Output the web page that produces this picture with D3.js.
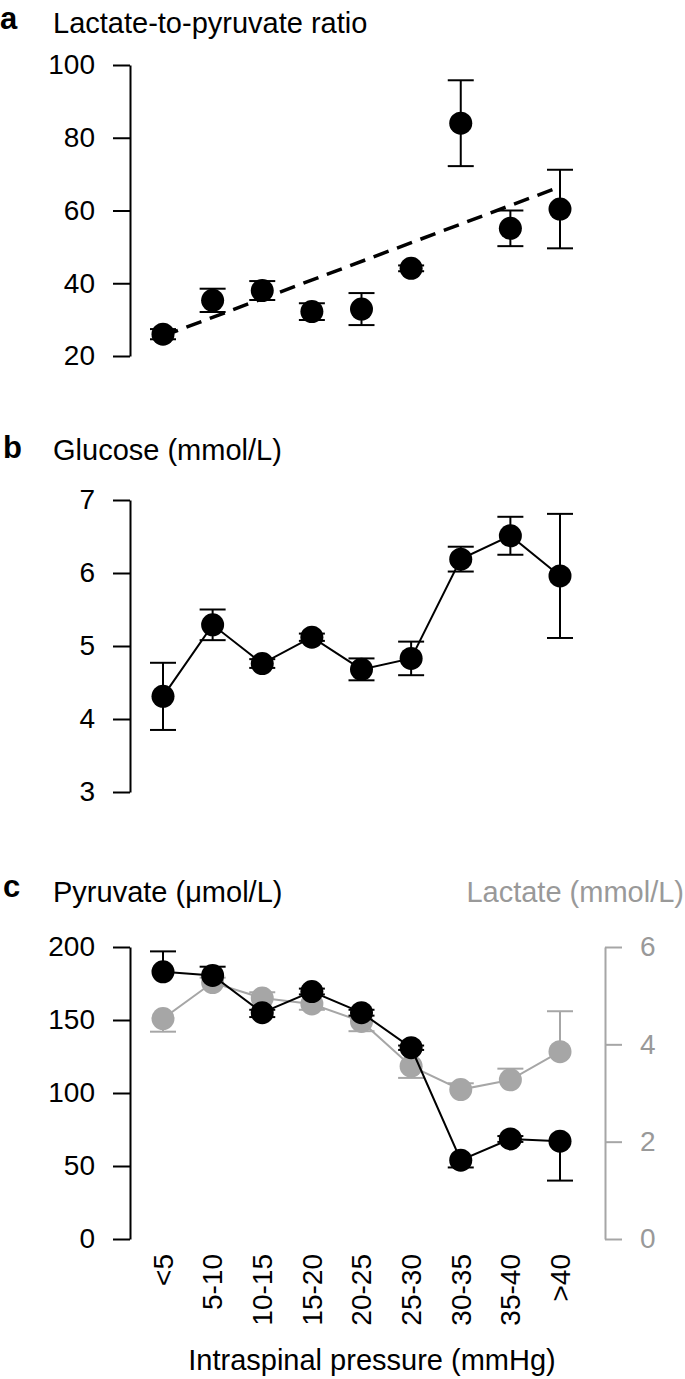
<!DOCTYPE html>
<html>
<head>
<meta charset="utf-8">
<script src="https://cdn.jsdelivr.net/npm/d3@7"></script>
<style>
  body { margin: 0; background: #fff; }
  svg { display: block; font-family: "Liberation Sans", Arial, sans-serif; }
  .axis path, .axis line { stroke-width: 2px; }
</style>
</head>
<body>
<script>
// categories (intraspinal pressure bins, mmHg)
var categories = ["<5", "5-10", "10-15", "15-20", "20-25", "25-30", "30-35", "35-40", ">40"]

// panel a: lactate-to-pyruvate ratio
var lprValues = [26, 35.3, 38, 32.2, 32.9, 44.1, 84, 55.1, 60.4]
var lprErr = [1.4, 3.2, 2.6, 2.3, 4.4, 0.8, 11.8, 4.9, 10.8]
var lprTrend = [25.5, 66]   // regression line at first and last bin
var lprTicks = [20, 40, 60, 80, 100]

// panel b: glucose (mmol/L)
var gluValues = [4.31, 5.29, 4.76, 5.12, 4.68, 4.83, 6.19, 6.51, 5.96]
var gluErr = [0.46, 0.21, 0.06, 0.05, 0.15, 0.23, 0.17, 0.26, 0.85]
var gluTicks = [3, 4, 5, 6, 7]

// panel c: pyruvate (umol/L) and lactate (mmol/L)
var pyrValues = [183, 180.5, 155, 169.5, 155, 131, 54, 68.5, 67]
var pyrErrUp = [14, 6, 2, 2, 2, 1.5, 0, 2, 0]
var pyrErrDown = [0, 0, 3, 2, 2, 1.5, 5, 2, 27]
var lacValues = [4.53, 5.27, 4.95, 4.83, 4.47, 3.55, 3.07, 3.27, 3.85]
var lacErrUp = [0, 0.1, 0.12, 0, 0, 0, 0.13, 0.23, 0.83]
var lacErrDown = [0.27, 0, 0, 0.12, 0.2, 0.24, 0, 0, 0]
var pyrTicks = [0, 50, 100, 150, 200]
var lacTicks = [0, 2, 4, 6]

var grey = "#a6a6a6"
var greyText = "#999999"
var R = 11.5
var CAP = 13
var TICK_FONT = 28
var TITLE_FONT = 29

var svg = d3.select("body").append("svg")
  .attr("width", 685)
  .attr("height", 1379)

var x = d3.scalePoint().domain(categories).range([163, 560])

function leftAxis(scale, ticks) {
  var g = svg.append("g")
    .attr("class", "axis")
    .attr("transform", "translate(130,0)")
    .call(d3.axisLeft(scale).tickValues(ticks).tickFormat(d3.format("d"))
      .tickSize(17).tickPadding(18).tickSizeOuter(0))
  g.selectAll("text").attr("font-size", TICK_FONT).attr("font-family", null)
  g.selectAll("path, line").attr("stroke", "#000")
  return g
}

function title(letter, text, lx, ly, ty) {
  svg.append("text").attr("x", lx).attr("y", ly)
    .attr("font-size", 31).attr("font-weight", "bold").text(letter)
  svg.append("text").attr("x", 53).attr("y", ty)
    .attr("font-size", TITLE_FONT).text(text)
}

function errorBars(values, up, down, y, color) {
  var g = svg.append("g").attr("stroke", color).attr("stroke-width", 2).attr("fill", "none")
  values.forEach(function(v, i) {
    var cx = x(categories[i])
    var top = y(v + up[i]), bot = y(v - down[i])
    g.append("line").attr("x1", cx).attr("x2", cx).attr("y1", top).attr("y2", bot)
    if (up[i] > 0) g.append("line").attr("x1", cx - CAP).attr("x2", cx + CAP).attr("y1", top).attr("y2", top)
    if (down[i] > 0) g.append("line").attr("x1", cx - CAP).attr("x2", cx + CAP).attr("y1", bot).attr("y2", bot)
  })
}

function markers(values, y, color) {
  svg.append("g").selectAll("circle")
    .data(values)
    .enter()
    .append("circle")
    .attr("cx", function(d, i) { return x(categories[i]) })
    .attr("cy", function(d) { return y(d) })
    .attr("r", R)
    .attr("fill", color)
}

function connect(values, y, color) {
  var line = d3.line()
    .x(function(d, i) { return x(categories[i]) })
    .y(function(d) { return y(d) })
  svg.append("path").datum(values)
    .attr("d", line)
    .attr("fill", "none")
    .attr("stroke", color)
    .attr("stroke-width", 2)
}

// ---- panel a ----
var yA = d3.scaleLinear().domain([20, 100]).range([356, 65])
title("a", "Lactate-to-pyruvate ratio", 0, 29, 33)
leftAxis(yA, lprTicks)
errorBars(lprValues, lprErr, lprErr, yA, "#000")
markers(lprValues, yA, "#000")
svg.append("line")
  .attr("x1", x(categories[0])).attr("y1", yA(lprTrend[0]))
  .attr("x2", x(categories[categories.length - 1]) - 5).attr("y2", yA(lprTrend[1]))
  .attr("stroke", "#000")
  .attr("stroke-width", 3.5)
  .attr("stroke-dasharray", "16,9")

// ---- panel b ----
var yB = d3.scaleLinear().domain([3, 7]).range([792, 500])
title("b", "Glucose (mmol/L)", 3, 458, 460)
leftAxis(yB, gluTicks)
connect(gluValues, yB, "#000")
errorBars(gluValues, gluErr, gluErr, yB, "#000")
markers(gluValues, yB, "#000")

// ---- panel c ----
var yC = d3.scaleLinear().domain([0, 200]).range([1239, 947])
var yL = d3.scaleLinear().domain([0, 6]).range([1239, 947])
title("c", "Pyruvate (\u03bcmol/L)", 3, 897, 902)
svg.append("text").attr("x", 684).attr("y", 902)
  .attr("text-anchor", "end").attr("font-size", TITLE_FONT).attr("fill", greyText)
  .text("Lactate (mmol/L)")
leftAxis(yC, pyrTicks)

var rAxis = svg.append("g")
  .attr("class", "axis")
  .attr("transform", "translate(605,0)")
  .call(d3.axisRight(yL).tickValues(lacTicks).tickFormat(d3.format("d"))
    .tickSize(17).tickPadding(18).tickSizeOuter(0))
rAxis.selectAll("path, line").attr("stroke", grey)
rAxis.selectAll("text").attr("font-size", TICK_FONT).attr("font-family", null).attr("fill", greyText)

connect(lacValues, yL, grey)
errorBars(lacValues, lacErrUp, lacErrDown, yL, grey)
markers(lacValues, yL, grey)

connect(pyrValues, yC, "#000")
errorBars(pyrValues, pyrErrUp, pyrErrDown, yC, "#000")
markers(pyrValues, yC, "#000")

// rotated category labels
svg.append("g").selectAll("text")
  .data(categories)
  .enter()
  .append("text")
  .attr("transform", function(d) { return "translate(" + x(d) + ",1254) rotate(-90)" })
  .attr("text-anchor", "end")
  .attr("dy", "0.35em")
  .attr("font-size", TICK_FONT)
  .text(function(d) { return d })

svg.append("text")
  .attr("x", 372).attr("y", 1370)
  .attr("text-anchor", "middle")
  .attr("font-size", 29)
  .text("Intraspinal pressure (mmHg)")
</script>
</body>
</html>
